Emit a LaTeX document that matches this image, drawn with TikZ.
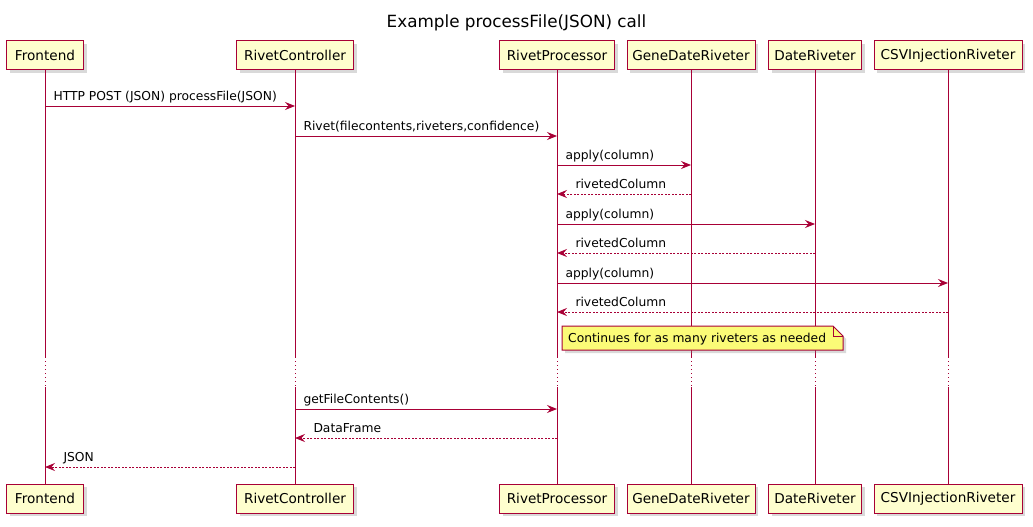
\documentclass[tikz,border=0pt]{standalone}
\usepackage{fontspec}
\setmainfont{DejaVu Sans}
\usetikzlibrary{arrows.meta,shadows}
\definecolor{seqred}{HTML}{A80036}
\definecolor{partfill}{HTML}{FEFECE}
\definecolor{notefill}{HTML}{FBFB77}
\begin{document}
\begin{tikzpicture}[x=1pt,y=-1pt,
  part/.style={draw=seqred, line width=1pt, fill=partfill, minimum height=29pt, inner sep=0pt,
    font=\fontsize{13.6}{16}\selectfont, drop shadow={shadow xshift=3pt, shadow yshift=-3pt, opacity=0.3}},
  life/.style={color=seqred, line width=1pt},
  call/.style={color=seqred, line width=1pt, -{Stealth[length=10pt, width=8pt, inset=3.5pt]}},
  back/.style={call, dash pattern=on 2pt off 1.5pt},
  lbl/.style={text=black, font=\fontsize{12.3}{14}\selectfont, anchor=base west, inner sep=0pt, yshift=6pt}]
\useasboundingbox (0,0) rectangle (1033,527);
\node[font=\fontsize{16.8}{20}\selectfont] (title) at (516.5,23) {Example processFile(JSON) call};
\foreach \n/\x/\w/\t in {fe/45/77/Frontend, rc/295/117/RivetController, rp/557/115/RivetProcessor,
    gdr/691/128/GeneDateRiveter, dr/815/93/DateRiveter, csv/948/148/CSVInjectionRiveter}{
  \node[part, minimum width=\w] (\n-top) at (\x,55.5) {\t};
  \node[part, minimum width=\w] (\n-bot) at (\x,498.5) {\t};
  \draw[life] (\n-top.south) -- (\n-top.south |- 0,357);
  \draw[life, dash pattern=on 1pt off 3pt] (\n-top.south |- 0,357) -- (\n-top.south |- 0,387);
  \draw[life] (\n-top.south |- 0,387) -- (\n-bot.north);
}
\draw[call] (fe-top |- 0,106) -- node[lbl, pos=0, xshift=8pt] {HTTP POST (JSON) processFile(JSON)} (rc-top |- 0,106);
\draw[call] (rc-top |- 0,136) -- node[lbl, pos=0, xshift=8pt] {Rivet(filecontents,riveters,confidence)} (rp-top |- 0,136);
\draw[call] (rp-top |- 0,165) -- node[lbl, pos=0, xshift=8pt] {apply(column)} (gdr-top |- 0,165);
\draw[back] (gdr-top |- 0,194) -- node[lbl, pos=1, xshift=18pt] {rivetedColumn} (rp-top |- 0,194);
\draw[call] (rp-top |- 0,224) -- node[lbl, pos=0, xshift=8pt] {apply(column)} (dr-top |- 0,224);
\draw[back] (dr-top |- 0,253) -- node[lbl, pos=1, xshift=18pt] {rivetedColumn} (rp-top |- 0,253);
\draw[call] (rp-top |- 0,283) -- node[lbl, pos=0, xshift=8pt] {apply(column)} (csv-top |- 0,283);
\draw[back] (csv-top |- 0,312) -- node[lbl, pos=1, xshift=18pt] {rivetedColumn} (rp-top |- 0,312);
\draw[seqred, line width=1pt, fill=notefill, drop shadow={shadow xshift=3pt, shadow yshift=-3pt, opacity=0.3}]
  (562,326) -- (833,326) -- (843,336) -- (843,350) -- (562,350) -- cycle;
\draw[seqred, line width=1pt] (833,326) -- (833,336) -- (843,336);
\node[font=\fontsize{12.3}{14}\selectfont, anchor=base west, inner sep=0pt] (note) at (568,342) {Continues for as many riveters as needed};
\draw[call] (rc-top |- 0,409) -- node[lbl, pos=0, xshift=8pt] {getFileContents()} (rp-top |- 0,409);
\draw[back] (rp-top |- 0,438) -- node[lbl, pos=1, xshift=18pt] {DataFrame} (rc-top |- 0,438);
\draw[back] (rc-top |- 0,467) -- node[lbl, pos=1, xshift=18pt] {JSON} (fe-top |- 0,467);
\end{tikzpicture}
\end{document}
